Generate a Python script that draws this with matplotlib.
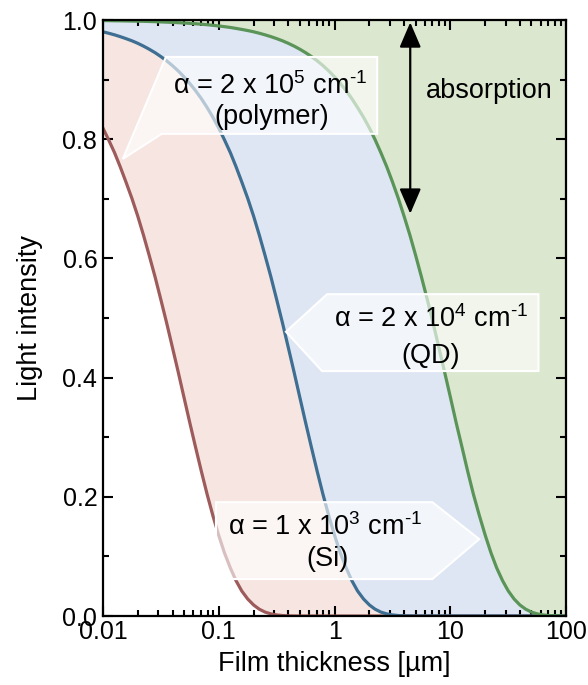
import matplotlib
matplotlib.use("Agg")
import matplotlib.pyplot as plt
from matplotlib.patches import Polygon
from matplotlib.ticker import FixedLocator, FixedFormatter, LogLocator, MultipleLocator, NullFormatter

plt.rcParams['font.family'] = ['Liberation Sans', 'DejaVu Sans']
plt.rcParams['mathtext.fontset'] = 'custom'
plt.rcParams['mathtext.rm'] = 'Liberation Sans'
plt.rcParams['mathtext.it'] = 'Liberation Sans'

# Film thickness [µm] sample points
thickness = [0.01, 0.0112, 0.0126, 0.0141, 0.0158, 0.0178, 0.02, 0.0224, 0.0251, 0.0282,
             0.0316, 0.0355, 0.0398, 0.0447, 0.0501, 0.0562, 0.0631, 0.0708, 0.0794, 0.0891,
             0.1, 0.112, 0.126, 0.141, 0.158, 0.178, 0.2, 0.224, 0.251, 0.282,
             0.316, 0.355, 0.398, 0.447, 0.501, 0.562, 0.631, 0.708, 0.794, 0.891,
             1, 1.12, 1.26, 1.41, 1.58, 1.78, 2, 2.24, 2.51, 2.82,
             3.16, 3.55, 3.98, 4.47, 5.01, 5.62, 6.31, 7.08, 7.94, 8.91,
             10, 11.2, 12.6, 14.1, 15.8, 17.8, 20, 22.4, 25.1, 28.2,
             31.6, 35.5, 39.8, 44.7, 50.1, 56.2, 63.1, 70.8, 79.4, 89.1,
             100]

# Light intensity
polymer = [0.8187, 0.7990, 0.7774, 0.7539, 0.7284, 0.7007, 0.6709, 0.6391, 0.6051, 0.5691,
           0.5313, 0.4918, 0.4510, 0.4093, 0.3670, 0.3247, 0.2831, 0.2427, 0.2042, 0.1682,
           0.1353, 0.1060, 0.0806, 0.0593, 0.0420, 0.0285, 0.0185, 0.0114, 0.0066, 0.0036,
           0.0018, 0.0008, 0.0003, 0.0001, 0.0, 0.0, 0.0, 0.0, 0.0, 0.0,
           0.0, 0.0, 0.0, 0.0, 0.0, 0.0, 0.0, 0.0, 0.0, 0.0,
           0.0, 0.0, 0.0, 0.0, 0.0, 0.0, 0.0, 0.0, 0.0, 0.0,
           0.0, 0.0, 0.0, 0.0, 0.0, 0.0, 0.0, 0.0, 0.0, 0.0,
           0.0, 0.0, 0.0, 0.0, 0.0, 0.0, 0.0, 0.0, 0.0, 0.0,
           0.0]
qd = [0.9802, 0.9778, 0.9751, 0.9721, 0.9688, 0.9651, 0.9609, 0.9562, 0.9510, 0.9452,
      0.9387, 0.9315, 0.9235, 0.9145, 0.9046, 0.8936, 0.8814, 0.8680, 0.8531, 0.8367,
      0.8187, 0.7990, 0.7774, 0.7539, 0.7284, 0.7007, 0.6709, 0.6391, 0.6051, 0.5691,
      0.5313, 0.4918, 0.4510, 0.4093, 0.3670, 0.3247, 0.2831, 0.2427, 0.2042, 0.1682,
      0.1353, 0.1060, 0.0806, 0.0593, 0.0420, 0.0285, 0.0185, 0.0114, 0.0066, 0.0036,
      0.0018, 0.0008, 0.0003, 0.0001, 0.0, 0.0, 0.0, 0.0, 0.0, 0.0,
      0.0, 0.0, 0.0, 0.0, 0.0, 0.0, 0.0, 0.0, 0.0, 0.0,
      0.0, 0.0, 0.0, 0.0, 0.0, 0.0, 0.0, 0.0, 0.0, 0.0,
      0.0]
si = [0.9990, 0.9989, 0.9987, 0.9986, 0.9984, 0.9982, 0.9980, 0.9978, 0.9975, 0.9972,
      0.9968, 0.9964, 0.9960, 0.9955, 0.9950, 0.9944, 0.9937, 0.9929, 0.9921, 0.9911,
      0.9900, 0.9888, 0.9875, 0.9859, 0.9842, 0.9823, 0.9802, 0.9778, 0.9751, 0.9721,
      0.9688, 0.9651, 0.9609, 0.9562, 0.9510, 0.9452, 0.9387, 0.9315, 0.9235, 0.9145,
      0.9046, 0.8936, 0.8814, 0.8680, 0.8531, 0.8367, 0.8187, 0.7990, 0.7774, 0.7539,
      0.7284, 0.7007, 0.6709, 0.6391, 0.6051, 0.5691, 0.5313, 0.4918, 0.4510, 0.4093,
      0.3670, 0.3247, 0.2831, 0.2427, 0.2042, 0.1682, 0.1353, 0.1060, 0.0806, 0.0593,
      0.0420, 0.0285, 0.0185, 0.0114, 0.0066, 0.0036, 0.0018, 0.0008, 0.0003, 0.0001,
      0.0]

x_ticks = [0.01, 0.1, 1, 10, 100]
x_ticklabels = ['0.01', '0.1', '1', '10', '100']
y_ticks = [0.0, 0.2, 0.4, 0.6, 0.8, 1.0]
y_ticklabels = ['0.0', '0.2', '0.4', '0.6', '0.8', '1.0']

red_line, red_fill = '#9d5b5b', '#f6e5e0'
blue_line, blue_fill = '#3e6e92', '#dfe6f3'
green_line, green_fill = '#5a9458', '#dbe7cf'

fig = plt.figure(figsize=(5.88, 6.85), dpi=100)
ax = fig.add_axes([0.175, 0.1007, 0.788, 0.8701])
ax.set_xscale('log')
ax.set_xlim(0.01, 100)
ax.set_ylim(0, 1.0)

ax.fill_between(thickness, polymer, qd, color=red_fill, lw=0, zorder=1)
ax.fill_between(thickness, qd, si, color=blue_fill, lw=0, zorder=1)
ax.fill_between(thickness, si, [1.0] * len(thickness), color=green_fill, lw=0, zorder=1)
ax.plot(thickness, polymer, color=red_line, lw=2.3, zorder=2)
ax.plot(thickness, qd, color=blue_line, lw=2.3, zorder=2)
ax.plot(thickness, si, color=green_line, lw=2.3, zorder=2)

# ticks
ax.xaxis.set_major_locator(FixedLocator(x_ticks))
ax.xaxis.set_major_formatter(FixedFormatter(x_ticklabels))
ax.xaxis.set_minor_locator(LogLocator(base=10, subs=range(2, 10)))
ax.xaxis.set_minor_formatter(NullFormatter())
ax.yaxis.set_major_locator(FixedLocator(y_ticks))
ax.yaxis.set_major_formatter(FixedFormatter(y_ticklabels))
ax.yaxis.set_minor_locator(MultipleLocator(0.1))
ax.tick_params(which='both', direction='in', top=True, right=True, width=1.5, labelsize=18)
ax.tick_params(which='major', length=7)
ax.tick_params(which='minor', length=4)
ax.tick_params(axis='x', pad=3)
ax.tick_params(axis='y', pad=4)
for s in ax.spines.values():
    s.set_linewidth(1.6)
    s.set_zorder(5)

ax.set_xlabel('Film thickness [µm]', fontsize=19.5, labelpad=5)
ax.set_ylabel('Light intensity', fontsize=19.5, labelpad=14)

# label boxes (axes fraction)
box_kw = dict(closed=True, transform=ax.transAxes, facecolor=(1, 1, 1, 0.62),
              edgecolor='white', lw=1.5, zorder=3)
ax.add_patch(Polygon([(0.136, 0.938), (0.592, 0.938), (0.592, 0.809), (0.127, 0.809), (0.043, 0.767)], **box_kw))
ax.add_patch(Polygon([(0.484, 0.540), (0.940, 0.540), (0.940, 0.411), (0.473, 0.411), (0.395, 0.477)], **box_kw))
ax.add_patch(Polygon([(0.244, 0.191), (0.711, 0.191), (0.812, 0.129), (0.711, 0.062), (0.244, 0.062)], **box_kw))

tkw = dict(transform=ax.transAxes, ha='center', va='center', fontsize=19.5, zorder=4)
ax.text(0.361, 0.889, r'α = 2 x 10$^{5}$ cm$^{\text{-1}}$', **tkw)
ax.text(0.365, 0.837, '(polymer)', **tkw)
ax.text(0.708, 0.499, r'α = 2 x 10$^{4}$ cm$^{\text{-1}}$', **tkw)
ax.text(0.708, 0.436, '(QD)', **tkw)
ax.text(0.479, 0.150, r'α = 1 x 10$^{3}$ cm$^{\text{-1}}$', **tkw)
ax.text(0.484, 0.096, '(Si)', **tkw)

ax.text(0.834, 0.881, 'absorption', **tkw)
ax.annotate('', xy=(4.5, 0.675), xytext=(4.5, 0.996),
            arrowprops=dict(arrowstyle='<|-|>,head_length=0.7,head_width=0.3', color='black', lw=1.6,
                            mutation_scale=22, shrinkA=0, shrinkB=0), zorder=4)

fig.savefig('out.png', dpi=100)
